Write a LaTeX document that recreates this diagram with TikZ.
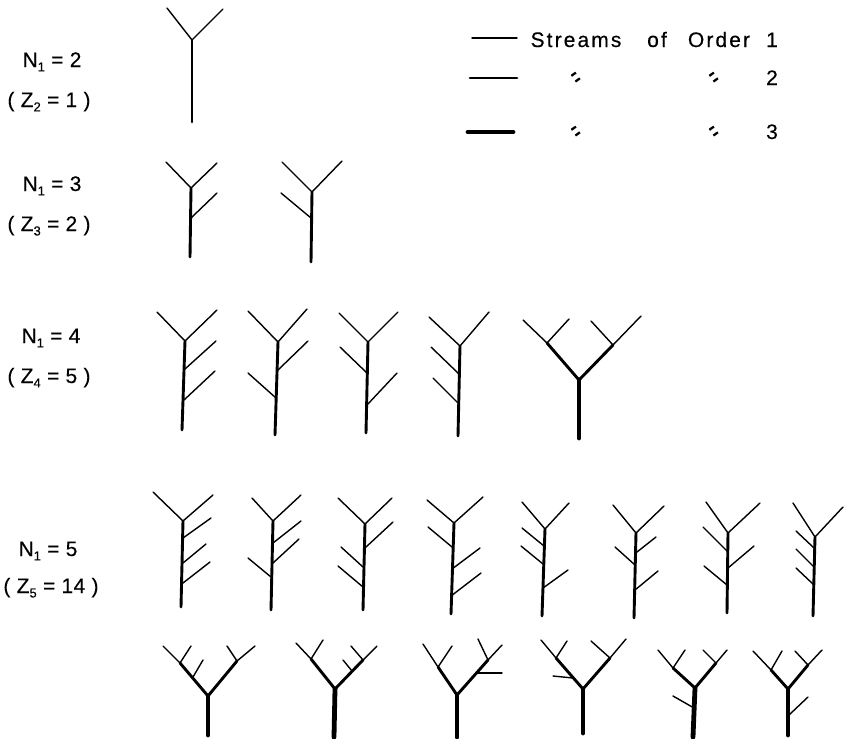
\documentclass[tikz,border=0pt]{standalone}
\usepackage{fontspec}
\setmainfont{Liberation Sans}
\newfontfamily\lblfont{Liberation Sans}[LetterSpace=2,FakeBold=0.3]
\newfontfamily\lgdfont{Liberation Sans}[LetterSpace=10,FakeBold=0.3]
\newcommand\lowsub[1]{\raisebox{-0.4ex}{\fontsize{13}{13}\selectfont #1}}
\tikzset{
  o1/.style={line width=1.4pt},
  o2/.style={line width=2.9pt},
  o3/.style={line width=4.8pt},
  lbl/.style={anchor=base, inner sep=0pt, font=\lblfont\fontsize{21}{25}\selectfont},
  lgd/.style={anchor=base, inner sep=0pt, font=\lgdfont\fontsize{21}{25}\selectfont},
  ditto/.style={inner sep=0pt, rotate=35, font=\lblfont\fontsize{28}{28}\selectfont}
}
\begin{document}
\begin{tikzpicture}[x=1pt,y=-1pt,line cap=round,line join=round]
\useasboundingbox (0,0) rectangle (849,739);
% labels
\node[lbl] (n2) at (52,67) {N\lowsub{1} = 2};
\node[lbl] (z2) at (49,107) {( Z\lowsub{2} = 1 )};
\node[lbl] (n3) at (52,191) {N\lowsub{1} = 3};
\node[lbl] (z3) at (49,231) {( Z\lowsub{3} = 2 )};
\node[lbl] (n4) at (51,343) {N\lowsub{1} = 4};
\node[lbl] (z4) at (49,383) {( Z\lowsub{4} = 5 )};
\node[lbl] (n5) at (48,556) {N\lowsub{1} = 5};
\node[lbl] (z5) at (51,593) {( Z\lowsub{5} = 14 )};
% legend
\draw[o1] (472,38) -- (517,38);
\draw[o2] (470,78) -- (517,78);
\draw[o3] (468,132) -- (513,132);
\node[lgd] (w1) at (576,47) {Streams};
\node[lgd] (w2) at (657,47) {of};
\node[lgd] (w3) at (719,47) {Order};
\node[lgd] (w4) at (772,47) {1};
\node[ditto] (d1) at (577,79) {\scalebox{0.4}[1]{=}};
\node[ditto] (d2) at (715,79) {\scalebox{0.4}[1]{=}};
\node[lgd] (w5) at (772,85) {2};
\node[ditto] (d3) at (577,133) {\scalebox{0.4}[1]{=}};
\node[ditto] (d4) at (715,133) {\scalebox{0.4}[1]{=}};
\node[lgd] (w6) at (772,139) {3};
% N1=2
\draw[o1] (167,8) -- (192,40) -- (223,9);
\draw[o2] (192,40) -- (192,122);
% N1=3
\draw[o1] (166,162) -- (191,188) -- (217,163);
\draw[o1] (191,218) -- (217,193);
\draw[o2] (191,188) -- (190,257);
\draw[o1] (282,162) -- (312,192) -- (342,161);
\draw[o1] (311,218) -- (281,193);
\draw[o2] (312,192) -- (311,262);
% N1=4
\draw[o1] (157,312) -- (185,341) -- (217,310);
\draw[o1] (185,369) -- (216,341);
\draw[o1] (184,400) -- (215,371);
\draw[o2] (185,341) -- (182,430);
\draw[o1] (248,311) -- (278,342) -- (307,309);
\draw[o1] (278,370) -- (308,341);
\draw[o1] (276,398) -- (248,373);
\draw[o2] (278,342) -- (275,435);
\draw[o1] (339,313) -- (368,342) -- (398,312);
\draw[o1] (368,374) -- (340,347);
\draw[o1] (367,405) -- (397,373);
\draw[o2] (368,342) -- (366,433);
\draw[o1] (429,317) -- (460,346) -- (489,312);
\draw[o1] (459,374) -- (431,347);
\draw[o1] (458,403) -- (433,378);
\draw[o2] (460,346) -- (458,436);
\draw[o1] (523,320) -- (547,343) -- (569,319);
\draw[o1] (591,321) -- (613,345) -- (641,316);
\draw[o2] (547,343) -- (579,380) -- (613,345);
\draw[o3] (579,380) -- (579,438);
% N1=5 row 1
\draw[o1] (153,492) -- (183,521) -- (213,495);
\draw[o1] (183,538) -- (211,518);
\draw[o1] (183,563) -- (206,544);
\draw[o1] (183,583) -- (210,562);
\draw[o2] (183,521) -- (181,607);
\draw[o1] (252,498) -- (273,521) -- (301,495);
\draw[o1] (273,543) -- (301,521);
\draw[o1] (273,563) -- (299,539);
\draw[o1] (271,577) -- (248,558);
\draw[o2] (273,521) -- (271,610);
\draw[o1] (338,498) -- (365,524) -- (392,498);
\draw[o1] (366,547) -- (393,522);
\draw[o1] (363,567) -- (341,547);
\draw[o1] (363,587) -- (338,566);
\draw[o2] (365,524) -- (363,610);
\draw[o1] (427,500) -- (454,523) -- (483,497);
\draw[o1] (452,547) -- (428,527);
\draw[o1] (452,569) -- (480,548);
\draw[o1] (451,596) -- (481,573);
\draw[o2] (454,523) -- (451,614);
\draw[o1] (522,502) -- (545,529) -- (569,503);
\draw[o1] (544,546) -- (522,528);
\draw[o1] (543,564) -- (521,546);
\draw[o1] (543,588) -- (568,570);
\draw[o2] (545,529) -- (542,616);
\draw[o1] (613,505) -- (636,533) -- (664,506);
\draw[o1] (637,552) -- (656,537);
\draw[o1] (635,565) -- (615,547);
\draw[o1] (635,590) -- (658,571);
\draw[o2] (636,533) -- (634,618);
\draw[o1] (706,502) -- (728,533) -- (760,503);
\draw[o1] (728,552) -- (703,527);
\draw[o1] (728,568) -- (754,546);
\draw[o1] (727,585) -- (704,566);
\draw[o2] (728,533) -- (727,613);
\draw[o1] (793,503) -- (815,537) -- (843,507);
\draw[o1] (814,548) -- (796,531);
\draw[o1] (814,567) -- (796,549);
\draw[o1] (814,585) -- (796,568);
\draw[o2] (815,537) -- (813,616);
% N1=5 row 2
\draw[o1] (163,646) -- (180,663) -- (191,646);
\draw[o1] (193,677) -- (203,660);
\draw[o1] (227,646) -- (237,661) -- (255,646);
\draw[o2] (180,663) -- (208,696) -- (237,661);
\draw[o3] (208,696) -- (208,735);
\draw[o1] (296,643) -- (311,659) -- (323,640);
\draw[o1] (351,646) -- (363,660) -- (377,646);
\draw[o1] (352,671) -- (343,660);
\draw[o2] (311,659) -- (335,689) -- (363,660);
\draw[o3] (335,689) -- (334,737);
\draw[o1] (423,644) -- (438,667) -- (452,646);
\draw[o1] (478,639) -- (488,660) -- (502,645);
\draw[o1] (477,673) -- (502,673);
\draw[o2] (438,667) -- (457,695) -- (488,660);
\draw[o3] (457,695) -- (457,737);
\draw[o1] (541,640) -- (556,658) -- (567,641);
\draw[o1] (573,678) -- (553,676);
\draw[o1] (591,641) -- (610,658) -- (626,639);
\draw[o2] (556,658) -- (583,689) -- (610,658);
\draw[o3] (583,689) -- (583,733);
\draw[o1] (658,650) -- (673,668) -- (685,650);
\draw[o1] (703,650) -- (716,663) -- (727,650);
\draw[o1] (694,708) -- (673,696);
\draw[o2] (673,668) -- (695,688) -- (716,663);
\draw[o3] (695,688) -- (693,737);
\draw[o1] (753,651) -- (771,670) -- (782,651);
\draw[o1] (795,651) -- (808,665) -- (822,650);
\draw[o1] (789,715) -- (808,697);
\draw[o2] (771,670) -- (788,689) -- (808,665);
\draw[o3] (788,689) -- (788,735);
\end{tikzpicture}
\end{document}
